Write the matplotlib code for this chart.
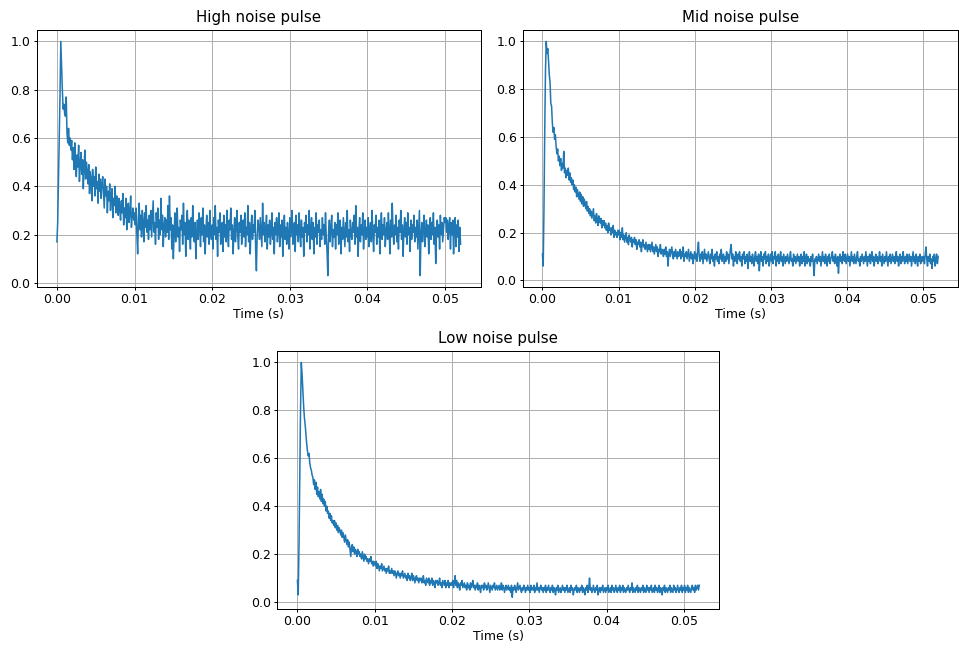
import numpy as np
import matplotlib
matplotlib.use("Agg")
import matplotlib.pyplot as plt

# sample spacing of the recorded pulses (s)
dt = 0.0001

titles = ["High noise pulse", "Mid noise pulse", "Low noise pulse"]

# one row = 20 samples = 2 ms
high_noise = [
    0.17, 0.25, 0.42, 0.60, 0.78, 1.00, 0.90, 0.80, 0.72, 0.74, 0.70, 0.69, 0.77, 0.62, 0.58, 0.64, 0.57, 0.60, 0.55, 0.59,
    0.51, 0.56, 0.47, 0.58, 0.50, 0.44, 0.53, 0.48, 0.57, 0.42, 0.49, 0.54, 0.45, 0.51, 0.39, 0.48, 0.55, 0.43, 0.50, 0.46,
    0.41, 0.49, 0.37, 0.46, 0.43, 0.34, 0.47, 0.40, 0.44, 0.36, 0.48, 0.39, 0.42, 0.33, 0.45, 0.38, 0.43, 0.35, 0.41, 0.44,
    0.37, 0.31, 0.43, 0.36, 0.40, 0.29, 0.38, 0.34, 0.41, 0.30, 0.36, 0.39, 0.27, 0.35, 0.32, 0.40, 0.29, 0.36, 0.33, 0.28,
    0.35, 0.30, 0.26, 0.34, 0.29, 0.37, 0.24, 0.31, 0.27, 0.35, 0.22, 0.30, 0.33, 0.25, 0.29, 0.36, 0.23, 0.28, 0.31, 0.26,
    0.29, 0.24, 0.31, 0.20, 0.12, 0.27, 0.33, 0.22, 0.28, 0.19, 0.30, 0.25, 0.17, 0.29, 0.23, 0.32, 0.21, 0.26, 0.18, 0.28,
    0.22, 0.30, 0.19, 0.27, 0.34, 0.21, 0.25, 0.16, 0.29, 0.23, 0.31, 0.18, 0.26, 0.20, 0.35, 0.22, 0.28, 0.15, 0.24, 0.27,
    0.19, 0.26, 0.21, 0.32, 0.18, 0.36, 0.22, 0.27, 0.14, 0.24, 0.10, 0.21, 0.29, 0.17, 0.25, 0.31, 0.19, 0.23, 0.13, 0.26,
    0.22, 0.28, 0.16, 0.33, 0.20, 0.25, 0.11, 0.23, 0.30, 0.18, 0.26, 0.21, 0.14, 0.27, 0.19, 0.32, 0.22, 0.17, 0.25, 0.10,
    0.21, 0.26, 0.18, 0.29, 0.23, 0.15, 0.27, 0.20, 0.31, 0.17, 0.24, 0.12, 0.22, 0.28, 0.19, 0.25, 0.16, 0.30, 0.21, 0.18,
    0.24, 0.14, 0.27, 0.20, 0.32, 0.18, 0.23, 0.11, 0.26, 0.21, 0.29, 0.16, 0.22, 0.25, 0.13, 0.28, 0.19, 0.24, 0.17, 0.30,
    0.20, 0.15, 0.26, 0.22, 0.31, 0.18, 0.24, 0.12, 0.21, 0.27, 0.17, 0.23, 0.30, 0.19, 0.14, 0.25, 0.21, 0.28, 0.16, 0.22,
    0.26, 0.19, 0.29, 0.15, 0.23, 0.20, 0.32, 0.17, 0.25, 0.12, 0.22, 0.28, 0.18, 0.24, 0.21, 0.30, 0.14, 0.05, 0.20, 0.26,
    0.23, 0.18, 0.27, 0.21, 0.15, 0.33, 0.20, 0.25, 0.17, 0.22, 0.28, 0.14, 0.24, 0.19, 0.26, 0.16, 0.21, 0.29, 0.18, 0.23,
    0.12, 0.25, 0.20, 0.27, 0.17, 0.22, 0.29, 0.15, 0.24, 0.19, 0.26, 0.11, 0.21, 0.28, 0.18, 0.23, 0.16, 0.25, 0.20, 0.14,
    0.27, 0.19, 0.23, 0.30, 0.16, 0.22, 0.25, 0.13, 0.28, 0.20, 0.24, 0.17, 0.29, 0.21, 0.15, 0.26, 0.19, 0.23, 0.11, 0.25,
    0.21, 0.28, 0.17, 0.24, 0.20, 0.30, 0.14, 0.22, 0.27, 0.18, 0.25, 0.12, 0.23, 0.19, 0.29, 0.16, 0.24, 0.21, 0.26, 0.15,
    0.22, 0.18, 0.27, 0.20, 0.24, 0.16, 0.29, 0.19, 0.13, 0.03, 0.21, 0.26, 0.17, 0.23, 0.28, 0.15, 0.22, 0.19, 0.25, 0.14,
    0.24, 0.20, 0.29, 0.16, 0.22, 0.26, 0.12, 0.23, 0.18, 0.27, 0.21, 0.15, 0.25, 0.19, 0.30, 0.17, 0.22, 0.13, 0.26, 0.20,
    0.18, 0.25, 0.21, 0.28, 0.16, 0.32, 0.19, 0.23, 0.11, 0.22, 0.27, 0.17, 0.24, 0.20, 0.29, 0.14, 0.21, 0.26, 0.18, 0.23,
    0.19, 0.27, 0.15, 0.22, 0.25, 0.17, 0.30, 0.20, 0.13, 0.24, 0.21, 0.28, 0.16, 0.23, 0.19, 0.26, 0.12, 0.22, 0.29, 0.18,
    0.24, 0.20, 0.27, 0.15, 0.21, 0.25, 0.18, 0.29, 0.22, 0.12, 0.26, 0.19, 0.33, 0.21, 0.16, 0.24, 0.20, 0.28, 0.17, 0.23,
    0.14, 0.26, 0.21, 0.30, 0.18, 0.24, 0.11, 0.22, 0.27, 0.19, 0.25, 0.16, 0.29, 0.20, 0.23, 0.13, 0.26, 0.18, 0.24, 0.21,
    0.28, 0.17, 0.23, 0.19, 0.26, 0.14, 0.22, 0.30, 0.03, 0.20, 0.25, 0.17, 0.23, 0.28, 0.15, 0.21, 0.26, 0.19, 0.24, 0.12,
    0.22, 0.27, 0.18, 0.25, 0.20, 0.29, 0.16, 0.23, 0.08, 0.21, 0.26, 0.19, 0.24, 0.14, 0.28, 0.20, 0.25, 0.17, 0.22, 0.27,
    0.25, 0.27, 0.21, 0.26, 0.18, 0.24, 0.27, 0.14, 0.25, 0.20, 0.26, 0.12, 0.23, 0.27, 0.15, 0.24, 0.19, 0.26, 0.13, 0.23,
    0.16,
]

mid_noise = [
    0.11, 0.06, 0.30, 0.62, 0.88, 1.00, 0.95, 0.97, 0.92, 0.86, 0.83, 0.74, 0.73, 0.66, 0.62, 0.64, 0.59, 0.61, 0.56, 0.53,
    0.55, 0.50, 0.52, 0.48, 0.51, 0.46, 0.49, 0.47, 0.54, 0.45, 0.47, 0.43, 0.46, 0.44, 0.47, 0.42, 0.45, 0.41, 0.43, 0.40,
    0.42, 0.38, 0.40, 0.37, 0.39, 0.35, 0.38, 0.36, 0.34, 0.37, 0.33, 0.36, 0.32, 0.35, 0.31, 0.34, 0.32, 0.30, 0.33, 0.29,
    0.31, 0.28, 0.30, 0.27, 0.29, 0.26, 0.28, 0.30, 0.25, 0.27, 0.24, 0.28, 0.26, 0.23, 0.27, 0.25, 0.24, 0.26, 0.22, 0.25,
    0.23, 0.25, 0.22, 0.24, 0.21, 0.23, 0.20, 0.24, 0.21, 0.22, 0.19, 0.22, 0.20, 0.23, 0.18, 0.21, 0.19, 0.20, 0.18, 0.21,
    0.19, 0.21, 0.17, 0.20, 0.18, 0.22, 0.17, 0.19, 0.16, 0.18, 0.20, 0.16, 0.18, 0.15, 0.19, 0.17, 0.16, 0.18, 0.14, 0.17,
    0.16, 0.18, 0.15, 0.17, 0.13, 0.16, 0.15, 0.17, 0.14, 0.16, 0.12, 0.15, 0.17, 0.14, 0.15, 0.13, 0.16, 0.14, 0.12, 0.15,
    0.13, 0.15, 0.12, 0.14, 0.16, 0.12, 0.14, 0.11, 0.13, 0.15, 0.12, 0.14, 0.10, 0.13, 0.12, 0.15, 0.11, 0.13, 0.12, 0.10,
    0.13, 0.11, 0.14, 0.10, 0.12, 0.06, 0.11, 0.13, 0.10, 0.12, 0.14, 0.11, 0.09, 0.12, 0.10, 0.13, 0.11, 0.09, 0.12, 0.10,
    0.11, 0.13, 0.09, 0.12, 0.10, 0.14, 0.08, 0.11, 0.10, 0.12, 0.09, 0.11, 0.13, 0.08, 0.10, 0.12, 0.09, 0.11, 0.07, 0.10,
    0.12, 0.09, 0.11, 0.08, 0.13, 0.16, 0.10, 0.08, 0.11, 0.09, 0.12, 0.07, 0.10, 0.13, 0.09, 0.11, 0.08, 0.10, 0.12, 0.09,
    0.07, 0.11, 0.09, 0.13, 0.08, 0.10, 0.06, 0.11, 0.09, 0.12, 0.08, 0.10, 0.07, 0.11, 0.09, 0.13, 0.08, 0.10, 0.11, 0.07,
    0.10, 0.08, 0.12, 0.09, 0.11, 0.07, 0.10, 0.13, 0.15, 0.09, 0.11, 0.06, 0.10, 0.08, 0.12, 0.09, 0.07, 0.11, 0.09, 0.12,
    0.08, 0.10, 0.06, 0.11, 0.09, 0.12, 0.07, 0.10, 0.08, 0.11, 0.05, 0.09, 0.12, 0.08, 0.10, 0.07, 0.11, 0.09, 0.06, 0.10,
    0.12, 0.08, 0.10, 0.07, 0.11, 0.04, 0.09, 0.12, 0.08, 0.10, 0.06, 0.11, 0.09, 0.12, 0.07, 0.10, 0.08, 0.11, 0.06, 0.09,
    0.11, 0.08, 0.12, 0.07, 0.10, 0.09, 0.12, 0.06, 0.10, 0.08, 0.11, 0.07, 0.09, 0.12, 0.08, 0.10, 0.06, 0.11, 0.09, 0.07,
    0.10, 0.08, 0.11, 0.09, 0.07, 0.10, 0.12, 0.08, 0.09, 0.06, 0.11, 0.08, 0.10, 0.07, 0.09, 0.11, 0.08, 0.10, 0.06, 0.09,
    0.11, 0.07, 0.10, 0.08, 0.12, 0.06, 0.09, 0.11, 0.07, 0.10, 0.08, 0.09, 0.06, 0.10, 0.08, 0.11, 0.07, 0.02, 0.09, 0.08,
    0.10, 0.07, 0.09, 0.11, 0.08, 0.10, 0.06, 0.09, 0.12, 0.08, 0.10, 0.07, 0.11, 0.09, 0.06, 0.10, 0.08, 0.11, 0.07, 0.09,
    0.10, 0.12, 0.08, 0.10, 0.07, 0.11, 0.09, 0.06, 0.10, 0.03, 0.09, 0.11, 0.08, 0.10, 0.07, 0.12, 0.09, 0.08, 0.11, 0.07,
    0.09, 0.11, 0.08, 0.10, 0.06, 0.09, 0.12, 0.08, 0.10, 0.07, 0.11, 0.09, 0.07, 0.10, 0.12, 0.08, 0.09, 0.06, 0.10, 0.08,
    0.11, 0.09, 0.07, 0.10, 0.08, 0.12, 0.09, 0.06, 0.10, 0.08, 0.11, 0.07, 0.09, 0.12, 0.08, 0.10, 0.06, 0.09, 0.11, 0.08,
    0.10, 0.07, 0.09, 0.12, 0.08, 0.10, 0.06, 0.11, 0.09, 0.07, 0.10, 0.08, 0.12, 0.09, 0.06, 0.10, 0.08, 0.11, 0.07, 0.09,
    0.11, 0.08, 0.10, 0.07, 0.09, 0.12, 0.08, 0.10, 0.06, 0.09, 0.11, 0.07, 0.10, 0.08, 0.12, 0.09, 0.07, 0.10, 0.08, 0.11,
    0.07, 0.09, 0.11, 0.08, 0.10, 0.06, 0.09, 0.12, 0.08, 0.10, 0.07, 0.11, 0.09, 0.06, 0.10, 0.08, 0.11, 0.07, 0.09, 0.10,
    0.08, 0.10, 0.07, 0.11, 0.14, 0.09, 0.06, 0.10, 0.08, 0.11, 0.07, 0.09, 0.05, 0.10, 0.08, 0.11, 0.06, 0.09, 0.11, 0.07,
    0.10,
]

low_noise = [
    0.09, 0.03, 0.23, 0.52, 0.80, 1.00, 0.95, 0.88, 0.82, 0.77, 0.74, 0.70, 0.66, 0.63, 0.61, 0.62, 0.58, 0.56, 0.55, 0.53,
    0.52, 0.49, 0.51, 0.47, 0.50, 0.45, 0.48, 0.44, 0.46, 0.43, 0.47, 0.42, 0.45, 0.41, 0.43, 0.40, 0.42, 0.38, 0.40, 0.37,
    0.38, 0.35, 0.37, 0.34, 0.36, 0.33, 0.34, 0.32, 0.34, 0.31, 0.33, 0.30, 0.32, 0.29, 0.31, 0.30, 0.28, 0.30, 0.27, 0.29,
    0.27, 0.25, 0.28, 0.26, 0.24, 0.26, 0.23, 0.25, 0.22, 0.19, 0.23, 0.24, 0.21, 0.23, 0.20, 0.22, 0.21, 0.19, 0.22, 0.20,
    0.21, 0.19, 0.20, 0.18, 0.21, 0.19, 0.17, 0.20, 0.18, 0.19, 0.17, 0.18, 0.16, 0.18, 0.17, 0.19, 0.16, 0.17, 0.15, 0.17,
    0.16, 0.15, 0.17, 0.14, 0.16, 0.15, 0.13, 0.15, 0.14, 0.16, 0.13, 0.14, 0.15, 0.13, 0.14, 0.12, 0.14, 0.13, 0.15, 0.12,
    0.13, 0.12, 0.14, 0.12, 0.13, 0.11, 0.13, 0.12, 0.10, 0.12, 0.13, 0.11, 0.12, 0.10, 0.12, 0.11, 0.13, 0.10, 0.11, 0.12,
    0.10, 0.11, 0.09, 0.12, 0.10, 0.11, 0.09, 0.10, 0.12, 0.09, 0.11, 0.10, 0.08, 0.10, 0.11, 0.09, 0.10, 0.08, 0.10, 0.09,
    0.10, 0.08, 0.09, 0.11, 0.08, 0.09, 0.07, 0.10, 0.09, 0.08, 0.10, 0.07, 0.09, 0.08, 0.10, 0.07, 0.09, 0.08, 0.06, 0.09,
    0.08, 0.09, 0.07, 0.08, 0.10, 0.07, 0.08, 0.06, 0.09, 0.08, 0.07, 0.09, 0.06, 0.08, 0.07, 0.09, 0.06, 0.08, 0.07, 0.08,
    0.07, 0.09, 0.06, 0.08, 0.11, 0.07, 0.09, 0.06, 0.08, 0.07, 0.05, 0.08, 0.07, 0.09, 0.06, 0.07, 0.08, 0.06, 0.07, 0.05,
    0.08, 0.06, 0.07, 0.05, 0.08, 0.06, 0.07, 0.09, 0.06, 0.07, 0.05, 0.07, 0.06, 0.08, 0.05, 0.07, 0.06, 0.04, 0.07, 0.06,
    0.07, 0.05, 0.08, 0.06, 0.07, 0.05, 0.06, 0.08, 0.06, 0.04, 0.07, 0.06, 0.05, 0.07, 0.06, 0.08, 0.05, 0.06, 0.07, 0.05,
    0.06, 0.07, 0.05, 0.06, 0.08, 0.05, 0.07, 0.06, 0.04, 0.06, 0.07, 0.05, 0.06, 0.07, 0.05, 0.06, 0.04, 0.07, 0.02, 0.06,
    0.05, 0.07, 0.06, 0.04, 0.06, 0.08, 0.05, 0.06, 0.07, 0.05, 0.04, 0.06, 0.05, 0.07, 0.06, 0.04, 0.06, 0.05, 0.07, 0.05,
    0.06, 0.04, 0.07, 0.05, 0.06, 0.05, 0.07, 0.04, 0.06, 0.05, 0.08, 0.05, 0.06, 0.04, 0.06, 0.07, 0.05, 0.06, 0.04, 0.06,
    0.05, 0.07, 0.04, 0.06, 0.05, 0.07, 0.05, 0.04, 0.06, 0.05, 0.07, 0.04, 0.06, 0.05, 0.03, 0.06, 0.05, 0.07, 0.04, 0.05,
    0.06, 0.04, 0.05, 0.07, 0.05, 0.06, 0.04, 0.06, 0.05, 0.07, 0.04, 0.05, 0.06, 0.04, 0.07, 0.05, 0.06, 0.03, 0.05, 0.06,
    0.05, 0.07, 0.04, 0.06, 0.05, 0.04, 0.06, 0.05, 0.07, 0.04, 0.06, 0.05, 0.03, 0.06, 0.05, 0.07, 0.04, 0.06, 0.10, 0.05,
    0.06, 0.04, 0.05, 0.07, 0.05, 0.04, 0.06, 0.05, 0.07, 0.03, 0.05, 0.06, 0.04, 0.06, 0.05, 0.07, 0.04, 0.05, 0.06, 0.04,
    0.06, 0.05, 0.07, 0.04, 0.05, 0.06, 0.04, 0.07, 0.05, 0.06, 0.04, 0.05, 0.07, 0.05, 0.04, 0.06, 0.05, 0.07, 0.04, 0.06,
    0.05, 0.07, 0.04, 0.06, 0.05, 0.04, 0.06, 0.05, 0.07, 0.05, 0.04, 0.06, 0.05, 0.08, 0.04, 0.06, 0.05, 0.04, 0.06, 0.05,
    0.07, 0.04, 0.06, 0.05, 0.04, 0.06, 0.05, 0.07, 0.04, 0.06, 0.05, 0.04, 0.07, 0.05, 0.06, 0.04, 0.06, 0.05, 0.07, 0.04,
    0.05, 0.06, 0.04, 0.07, 0.05, 0.06, 0.04, 0.05, 0.07, 0.04, 0.06, 0.05, 0.03, 0.06, 0.05, 0.07, 0.04, 0.06, 0.05, 0.04,
    0.06, 0.05, 0.07, 0.04, 0.06, 0.05, 0.04, 0.07, 0.05, 0.06, 0.04, 0.05, 0.07, 0.05, 0.04, 0.06, 0.05, 0.07, 0.04, 0.06,
    0.05, 0.07, 0.04, 0.06, 0.05, 0.07, 0.04, 0.06, 0.05, 0.04, 0.06, 0.07, 0.05, 0.06, 0.04, 0.07, 0.05, 0.06, 0.07, 0.05,
    0.07,
]

# slightly scaled-down default style
plt.rcParams.update({
    "font.size": 9,
    "axes.titlesize": 10.8,
    "axes.labelsize": 9,
    "xtick.labelsize": 9,
    "ytick.labelsize": 9,
    "xtick.major.size": 2.4,
    "ytick.major.size": 2.4,
    "xtick.major.pad": 2.0,
    "ytick.major.pad": 2.0,
    "axes.linewidth": 0.72,
    "grid.linewidth": 0.72,
    "xtick.major.width": 0.72,
    "ytick.major.width": 0.72,
    "lines.linewidth": 1.1,
})

fig = plt.figure(figsize=(9.59, 6.48), dpi=100)

# axes rectangles in figure fractions (left, bottom, width, height)
boxes = [
    (0.0383, 0.5566, 0.4630, 0.3975),
    (0.5450, 0.5566, 0.4539, 0.3975),
    (0.2892, 0.0602, 0.4609, 0.3986),
]

for box, title, values in zip(boxes, titles, [high_noise, mid_noise, low_noise]):
    t = np.arange(len(values)) * dt
    ax = fig.add_axes(box)
    ax.plot(t, values, color="#1f77b4")
    ax.set_title(title, pad=5.4)
    ax.set_xlabel("Time (s)", labelpad=1.2)
    ax.set_xticks([0.0, 0.01, 0.02, 0.03, 0.04, 0.05])
    ax.set_yticks([0.0, 0.2, 0.4, 0.6, 0.8, 1.0])
    ax.grid(True)

fig.savefig("out.png", dpi=100)
